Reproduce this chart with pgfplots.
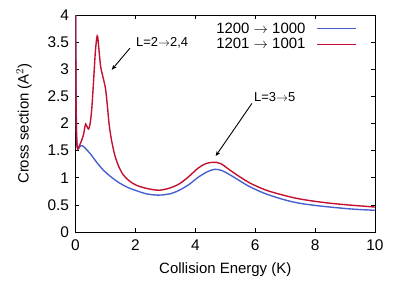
\documentclass[border=0pt]{standalone}
\usepackage{pgfplots}
\pgfplotsset{compat=1.18}
\usepackage{fontspec}
\setmainfont{Liberation Sans}
\usetikzlibrary{arrows.meta}
\definecolor{cblue}{RGB}{72,96,208}
\definecolor{cred}{RGB}{196,16,48}
\begin{document}
\begin{tikzpicture}
\useasboundingbox (-75.5bp,-50bp) rectangle (327.5bp,232bp);
\begin{axis}[
  scale only axis,
  width=299.5bp, height=217bp,
  at={(0,0)}, anchor=south west,
  xmin=0, xmax=10, ymin=0, ymax=4,
  xtick={0,2,4,6,8,10},
  ytick={0,0.5,1,1.5,2,2.5,3,3.5,4},
  tick align=inside,
  major tick length=4bp,
  axis line style={black, line width=0.8pt},
  tick style={black, line width=0.6pt},
  /pgf/number format/assume math mode=true,
  every tick label/.append style={font=\fontsize{15.5}{17}\selectfont},
  xticklabel style={yshift=-4bp},
  yticklabel style={xshift=-3bp},
  xlabel={Collision Energy (K)},
  ylabel={Cross section (A$^2$)},
  label style={font=\fontsize{15}{17}\selectfont},
  xlabel style={yshift=-5bp},
  ylabel style={yshift=9bp},
  legend plot pos=right,
  legend cell align=right,
  legend style={draw=none, fill=none, at={(rel axis cs:0.94,0.975)}, anchor=north east,
    inner sep=0pt, row sep=0pt, font=\fontsize{15}{16.5}\selectfont,
    /tikz/every odd column/.append style={column sep=9bp}},
  legend image code/.code={\draw[#1] (0bp,0bp) -- (39bp,0bp);},
]
\addplot[cblue, line width=1.4pt, smooth, tension=0.5] coordinates {
(0.004,4.6) (0.012,3.2) (0.025,2.2) (0.04,1.75) (0.06,1.58) (0.09,1.53)
(0.13,1.56) (0.18,1.59) (0.23,1.59) (0.3,1.56) (0.4,1.50) (0.5,1.44)
(0.7,1.29) (0.93,1.14) (1.2,1.01) (1.48,0.90) (1.75,0.82) (2.04,0.76)
(2.4,0.70) (2.8,0.68) (3.2,0.71) (3.5,0.78) (3.8,0.88) (4.1,1.01)
(4.4,1.11) (4.65,1.155) (4.9,1.13) (5.26,1.02) (5.8,0.84) (6.37,0.70)
(7,0.59) (7.48,0.53) (8,0.49) (8.59,0.455) (9.3,0.42) (10,0.40)
};
\addlegendentry{1200 $\rightarrow$ 1000}
\addplot[cred, line width=1.4pt, smooth, tension=0.5] coordinates {
(0.002,4.6) (0.01,3.2) (0.02,2.3) (0.035,1.75) (0.055,1.56) (0.075,1.53)
(0.12,1.58) (0.2,1.68) (0.27,1.80) (0.31,1.93) (0.34,1.99) (0.38,1.95)
(0.43,1.90) (0.48,1.97) (0.54,2.25) (0.6,2.75) (0.66,3.3) (0.71,3.58)
(0.74,3.60) (0.78,3.38) (0.84,3.05) (0.92,2.85) (1.0,2.65) (1.06,2.35)
(1.12,2.0) (1.2,1.70) (1.32,1.40) (1.45,1.2) (1.6,1.05) (1.8,0.94)
(2.04,0.86) (2.4,0.80) (2.8,0.77) (3.2,0.82) (3.5,0.90) (3.8,1.03)
(4.1,1.18) (4.35,1.26) (4.6,1.285) (4.85,1.26) (5.26,1.10) (5.8,0.91)
(6.37,0.77) (7,0.67) (7.48,0.61) (8,0.565) (8.59,0.525) (9.3,0.49) (10,0.46)
};
\addlegendentry{1201 $\rightarrow$ 1001}
\draw[-{Stealth[length=5pt,width=4pt]}, line width=0.9pt] (axis cs:1.82,3.39) -- (axis cs:1.21,2.99);
\node[anchor=west, inner sep=0pt, font=\fontsize{13}{14}\selectfont] at (axis cs:2.02,3.48) {L=2$\to$2,4};
\draw[-{Stealth[length=5pt,width=4pt]}, line width=0.9pt] (axis cs:5.89,2.37) -- (axis cs:4.68,1.40);
\node[anchor=west, inner sep=0pt, font=\fontsize{13}{14}\selectfont] at (axis cs:5.96,2.49) {L=3$\to$5};
\end{axis}
\end{tikzpicture}
\end{document}
